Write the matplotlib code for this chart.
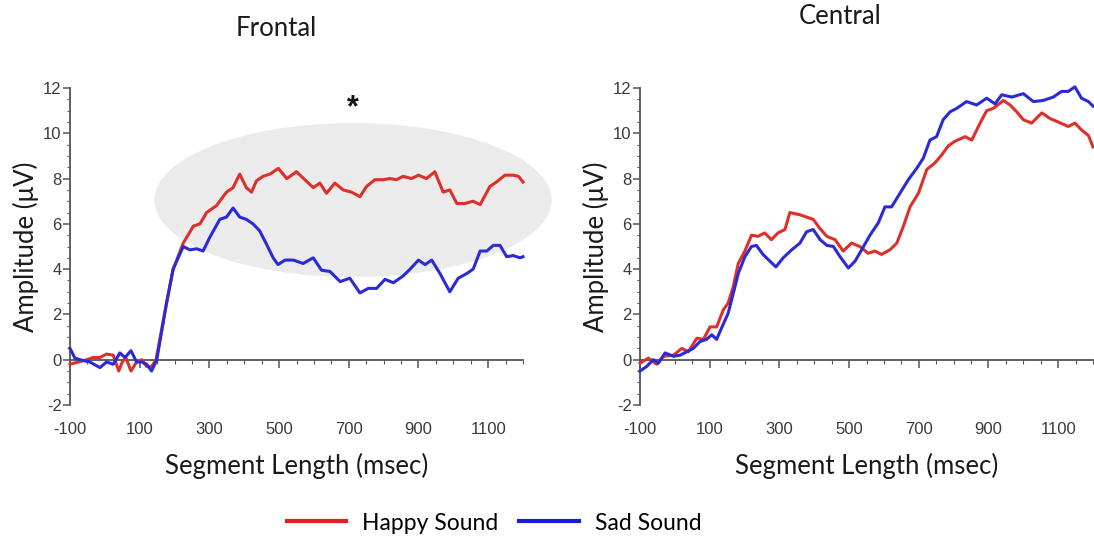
import matplotlib
matplotlib.use("Agg")
import matplotlib.pyplot as plt
from matplotlib.patches import Ellipse
from matplotlib.ticker import MultipleLocator
from matplotlib.lines import Line2D

plt.rcParams["axes.unicode_minus"] = False

# ---------------- data ----------------
front_happy_t = [-100, -76, -52, -33, -14, 5, 24, 40, 50, 60, 75, 91, 106, 120, 134, 147,
                 177, 196, 225, 254, 273, 292, 320, 349, 368, 387, 406, 421, 435, 454,
                 474, 498, 522, 550, 574, 598, 617, 636, 660, 684, 708, 732, 751, 775,
                 799, 818, 837, 856, 880, 900, 923, 947, 971, 990, 1010, 1033, 1057,
                 1077, 1105, 1124, 1148, 1172, 1187, 1200]
front_happy_v = [-0.2, -0.1, 0.0, 0.1, 0.1, 0.25, 0.2, -0.5, -0.1, 0.1, -0.5, -0.1, 0.0, -0.3, -0.3, 0.0,
                 2.5, 4.0, 5.15, 5.9, 6.0, 6.5, 6.8, 7.4, 7.6, 8.2, 7.6, 7.4, 7.9, 8.1,
                 8.2, 8.45, 8.0, 8.3, 7.95, 7.6, 7.8, 7.35, 7.8, 7.5, 7.4, 7.2, 7.65, 7.95,
                 7.95, 8.0, 7.95, 8.1, 8.0, 8.15, 8.0, 8.3, 7.4, 7.5, 6.9, 6.9, 7.0,
                 6.85, 7.65, 7.85, 8.15, 8.15, 8.1, 7.85]

front_sad_t = [-100, -86, -62, -43, -14, 5, 24, 43, 58, 75, 91, 106, 120, 134, 149,
               177, 196, 225, 244, 263, 282, 301, 330, 349, 368, 387, 406, 425, 444,
               464, 483, 497, 517, 541, 569, 598, 622, 646, 675, 703, 732, 756, 780,
               804, 828, 856, 876, 900, 919, 938, 962, 990, 1014, 1038, 1057, 1077,
               1096, 1115, 1134, 1153, 1172, 1191, 1200]
front_sad_v = [0.5, 0.07, -0.04, -0.1, -0.35, -0.1, -0.2, 0.3, 0.1, 0.4, -0.1, -0.1, -0.2, -0.5, 0.0,
               2.5, 4.0, 5.0, 4.85, 4.9, 4.8, 5.4, 6.2, 6.3, 6.7, 6.3, 6.2, 6.0, 5.7,
               5.1, 4.5, 4.2, 4.4, 4.4, 4.25, 4.5, 3.95, 3.9, 3.45, 3.6, 2.95, 3.15, 3.15,
               3.55, 3.4, 3.7, 4.0, 4.4, 4.2, 4.4, 3.8, 3.0, 3.6, 3.8, 4.0, 4.8,
               4.8, 5.05, 5.05, 4.55, 4.6, 4.5, 4.55]

cent_happy_t = [-100, -76, -52, -33, -4, 20, 39, 63, 82, 101, 120, 139, 153, 168, 182,
                201, 220, 239, 258, 277, 296, 316, 330, 359, 378, 397, 416, 436, 460,
                483, 507, 531, 555, 574, 593, 617, 637, 656, 675, 699, 723, 747, 766,
                785, 804, 833, 852, 876, 895, 914, 943, 962, 981, 1000, 1024, 1053,
                1077, 1100, 1129, 1148, 1167, 1187, 1200]
cent_happy_v = [-0.15, 0.07, -0.2, 0.15, 0.2, 0.5, 0.35, 0.95, 0.9, 1.45, 1.45, 2.2, 2.5, 3.25, 4.25,
                4.8, 5.5, 5.45, 5.6, 5.3, 5.6, 5.75, 6.5, 6.4, 6.3, 6.2, 5.8, 5.45, 5.3,
                4.8, 5.15, 5.0, 4.7, 4.8, 4.65, 4.85, 5.15, 5.9, 6.75, 7.35, 8.4, 8.7, 9.05,
                9.45, 9.65, 9.85, 9.7, 10.45, 11.0, 11.1, 11.45, 11.25, 10.95, 10.6, 10.45, 10.9,
                10.65, 10.5, 10.3, 10.45, 10.15, 9.9, 9.4]

cent_sad_t = [-100, -81, -62, -47, -28, -4, 15, 34, 53, 72, 91, 106, 120, 134, 153,
              168, 182, 201, 220, 234, 253, 273, 290, 311, 335, 359, 378, 397, 417,
              436, 455, 474, 498, 517, 536, 560, 584, 603, 622, 646, 670, 694, 713,
              732, 751, 770, 790, 809, 837, 866, 895, 919, 938, 967, 1000, 1029, 1057,
              1086, 1110, 1129, 1148, 1167, 1187, 1200]
cent_sad_v = [-0.5, -0.3, 0.0, -0.15, 0.3, 0.15, 0.2, 0.35, 0.5, 0.8, 0.9, 1.1, 0.9, 1.4, 2.05,
              2.95, 3.8, 4.55, 5.0, 5.05, 4.65, 4.35, 4.1, 4.5, 4.85, 5.15, 5.65, 5.75, 5.3,
              5.05, 5.0, 4.55, 4.05, 4.35, 4.85, 5.5, 6.05, 6.75, 6.75, 7.35, 7.95, 8.45, 8.9,
              9.7, 9.85, 10.6, 10.95, 11.1, 11.4, 11.25, 11.55, 11.3, 11.7, 11.6, 11.75, 11.4, 11.45,
              11.6, 11.85, 11.85, 12.05, 11.55, 11.4, 11.2]

panel_titles = ["Frontal", "Central"]
series_names = ["Happy Sound", "Sad Sound"]
x_ticks = [-100, 100, 300, 500, 700, 900, 1100]
y_ticks = [-2, 0, 2, 4, 6, 8, 10, 12]

# ---------------- style ----------------
RED = "#de2f2b"
BLUE = "#2a2ad8"
AXC = "#555555"
TXT = "#3a3a3a"
LABEL_FONT = ["Lato", "DejaVu Sans"]
TICK_FONT = ["Liberation Sans", "DejaVu Sans"]

fig = plt.figure(figsize=(10.94, 5.44), dpi=100)
fig.patch.set_facecolor("white")

ax_w = 453 / 1094
ax_b = 1 - 405 / 544
ax_h = 317 / 544
axL = fig.add_axes([70 / 1094, ax_b, ax_w, ax_h])
axR = fig.add_axes([640 / 1094, ax_b, ax_w, ax_h])


def style_axes(ax):
    ax.set_xlim(-100, 1200)
    ax.set_ylim(-2, 12)
    ax.set_facecolor("none")
    for s in ("top", "right"):
        ax.spines[s].set_visible(False)
    ax.spines["left"].set_color(AXC)
    ax.spines["left"].set_linewidth(1.3)
    ax.spines["bottom"].set_position(("data", 0))
    ax.spines["bottom"].set_color(AXC)
    ax.spines["bottom"].set_linewidth(1.3)
    ax.set_xticks(x_ticks)
    ax.xaxis.set_minor_locator(MultipleLocator(50))
    ax.tick_params(axis="x", which="major", direction="out", length=6, width=1.1,
                   color=AXC, labelbottom=False)
    ax.tick_params(axis="x", which="minor", direction="out", length=3, width=0.8, color=AXC)
    ax.set_yticks(y_ticks)
    ax.yaxis.set_minor_locator(MultipleLocator(0.5))
    ax.tick_params(axis="y", which="major", direction="out", length=5, width=1.1,
                   color=AXC, labelsize=12, labelcolor=TXT, pad=1)
    ax.tick_params(axis="y", which="minor", direction="out", length=2.5, width=0.8, color=AXC)
    for lab in ax.get_yticklabels():
        lab.set_family(TICK_FONT)
    sec = ax.secondary_xaxis("bottom")
    sec.set_xticks(x_ticks)
    sec.spines["bottom"].set_visible(False)
    sec.tick_params(axis="x", length=0, labelsize=12, labelcolor=TXT, pad=12)
    for lab in sec.get_xticklabels():
        lab.set_family(TICK_FONT)
    sec.set_xlabel("Segment Length (msec)", fontsize=18.5, family=LABEL_FONT,
                   color="#1a1a1a", labelpad=12)
    ax.set_ylabel("Amplitude (μV)", fontsize=18.5, family=LABEL_FONT, color="#1a1a1a",
                  labelpad=3)


style_axes(axL)
style_axes(axR)

# highlight ellipse on frontal panel
ell = Ellipse((712, 7.05), width=1140, height=6.8, facecolor="#ebebeb",
              edgecolor="none", zorder=0, clip_on=False, transform=axL.transData)
axL.add_patch(ell)
axL.text(712, 11.1, "*", ha="center", va="center", fontsize=22, fontweight="bold",
         color="#111111", family=TICK_FONT)

lw = 2.2
axL.plot(front_happy_t, front_happy_v, color=RED, lw=lw, zorder=3, clip_on=False)
axL.plot(front_sad_t, front_sad_v, color=BLUE, lw=lw, zorder=3, clip_on=False)
axR.plot(cent_happy_t, cent_happy_v, color=RED, lw=lw, zorder=3, clip_on=False)
axR.plot(cent_sad_t, cent_sad_v, color=BLUE, lw=lw, zorder=3, clip_on=False)

fig.text(276 / 1094, 1 - 28 / 544, panel_titles[0], ha="center", va="center",
         fontsize=18.5, family=LABEL_FONT, color="#1a1a1a")
fig.text(840 / 1094, 1 - 17 / 544, panel_titles[1], ha="center", va="center",
         fontsize=18.5, family=LABEL_FONT, color="#1a1a1a")

handles = [Line2D([], [], color="#e02020", lw=3),
           Line2D([], [], color="#1a1ad0", lw=3)]
leg = fig.legend(handles, series_names, loc="center", ncol=2,
                 bbox_to_anchor=(494 / 1094, 1 - 523 / 544), frameon=False,
                 prop={"family": LABEL_FONT, "size": 16.5}, handlelength=2.6,
                 columnspacing=0.9, handletextpad=0.7)

fig.savefig("out.png", dpi=100, facecolor="white")
